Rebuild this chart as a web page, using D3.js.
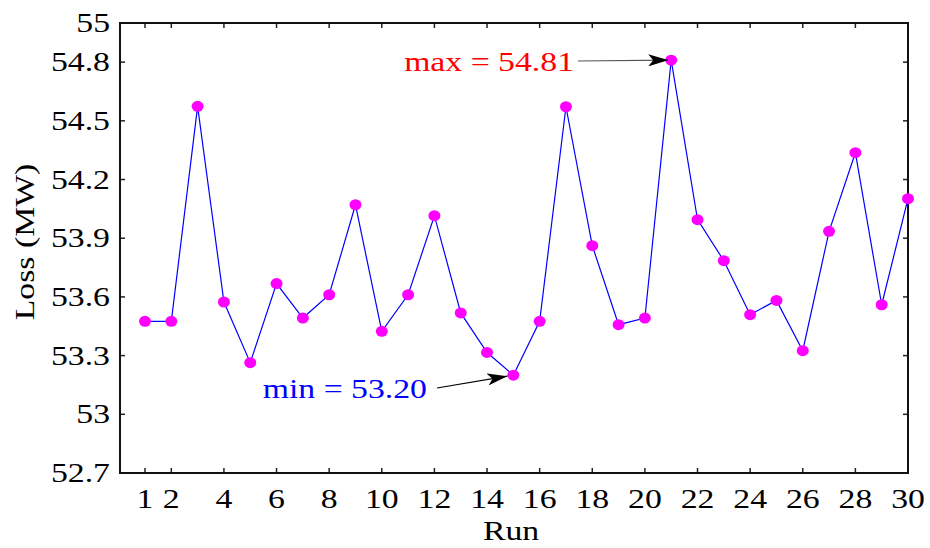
<!DOCTYPE html>
<html><head><meta charset="utf-8">
<script src="https://cdn.jsdelivr.net/npm/d3@7"></script>
<style>body{margin:0;background:#fff}</style>
</head><body>
<svg id="c" width="930" height="548"></svg>
<script>
const runs = d3.range(1, 31);
const loss = [53.475,53.475,54.574,53.574,53.264,53.668,53.492,53.611,54.071,53.424,
              53.611,54.015,53.518,53.316,53.20,53.475,54.572,53.862,53.458,53.492,
              54.81,53.995,53.785,53.509,53.582,53.325,53.935,54.337,53.56,54.102];
const xTicks = [1,2,4,6,8,10,12,14,16,18,20,22,24,26,28,30];
const yTicks = [52.7,53,53.3,53.6,53.9,54.2,54.5,54.8,55];
const yTickLabels = ["52.7","53","53.3","53.6","53.9","54.2","54.5","54.8","55"];
const maxLabel = "max = 54.81", minLabel = "min = 53.20";

const FF='"Liberation Serif","Times New Roman","DejaVu Serif",serif';
const SX=1.25;
const L=120,R=908,T=23,B=473;
const svg=d3.select("#c");
const x=d3.scaleLinear().domain([0.05,30]).range([L,R]);
const y=d3.scaleLinear().domain([52.7,55]).range([B,T]);

function txt(sel,tx,ty,str,size,anchor,fill,rot){
  return sel.append("text")
    .attr("transform",`translate(${tx},${ty})${rot?` rotate(${rot})`:""} scale(${SX},1)`)
    .attr("font-family",FF).attr("font-size",size).attr("text-anchor",anchor)
    .attr("fill",fill||"#000").text(str);
}

// ticks inward
const tl=5;
const ax=svg.append("g").attr("stroke","#222").attr("stroke-width",1.5);
xTicks.forEach(t=>{
  ax.append("line").attr("x1",x(t)).attr("x2",x(t)).attr("y1",B).attr("y2",B-tl);
  ax.append("line").attr("x1",x(t)).attr("x2",x(t)).attr("y1",T).attr("y2",T+tl);
});
yTicks.forEach(t=>{
  ax.append("line").attr("x1",L).attr("x2",L+tl).attr("y1",y(t)).attr("y2",y(t));
  ax.append("line").attr("x1",R).attr("x2",R-tl).attr("y1",y(t)).attr("y2",y(t));
});
svg.append("rect").attr("x",L).attr("y",T).attr("width",R-L).attr("height",B-T)
  .attr("fill","none").attr("stroke","#111").attr("stroke-width",2);

// tick labels
const gx=svg.append("g"), gy=svg.append("g");
xTicks.forEach(t=>txt(gx,x(t),508,String(t),27,"middle"));
yTicks.forEach((t,i)=>txt(gy,110,y(t)+9,yTickLabels[i],27,"end"));

txt(svg,511,540,"Run",27,"middle");
txt(svg,34,242,"Loss (MW)",27,"middle",null,-90);

// line and markers
svg.append("path").datum(runs).attr("fill","none").attr("stroke","#0000ff").attr("stroke-width",1.2)
  .attr("d",d3.line().x(d=>x(d)).y((d,i)=>y(loss[i])));
svg.append("g").selectAll("ellipse").data(runs).join("ellipse")
  .attr("cx",d=>x(d)).attr("cy",(d,i)=>y(loss[i])).attr("rx",6).attr("ry",5.5).attr("fill","#ff00ff");

// annotations
const defs=svg.append("defs");
defs.append("marker").attr("id","ah").attr("viewBox","0 0 20 12").attr("refX",20).attr("refY",6)
  .attr("markerWidth",20).attr("markerHeight",12).attr("markerUnits","userSpaceOnUse").attr("orient","auto")
  .append("path").attr("d","M0,0 L20,6 L0,12 L5,6 Z").attr("fill","#000");
const iMax=loss.indexOf(d3.max(loss)), iMin=loss.indexOf(d3.min(loss));
txt(svg,574,71,maxLabel,27,"end","#ff0000");
svg.append("line").attr("x1",578).attr("y1",61).attr("x2",x(runs[iMax])-3).attr("y2",y(loss[iMax]))
  .attr("stroke","#555").attr("stroke-width",1.2).attr("marker-end","url(#ah)");
txt(svg,427,398,minLabel,27,"end","#0000ff");
svg.append("line").attr("x1",437).attr("y1",388).attr("x2",x(runs[iMin])-6).attr("y2",y(loss[iMin])+1)
  .attr("stroke","#000").attr("stroke-width",1.2).attr("marker-end","url(#ah)");
</script>
</body></html>
